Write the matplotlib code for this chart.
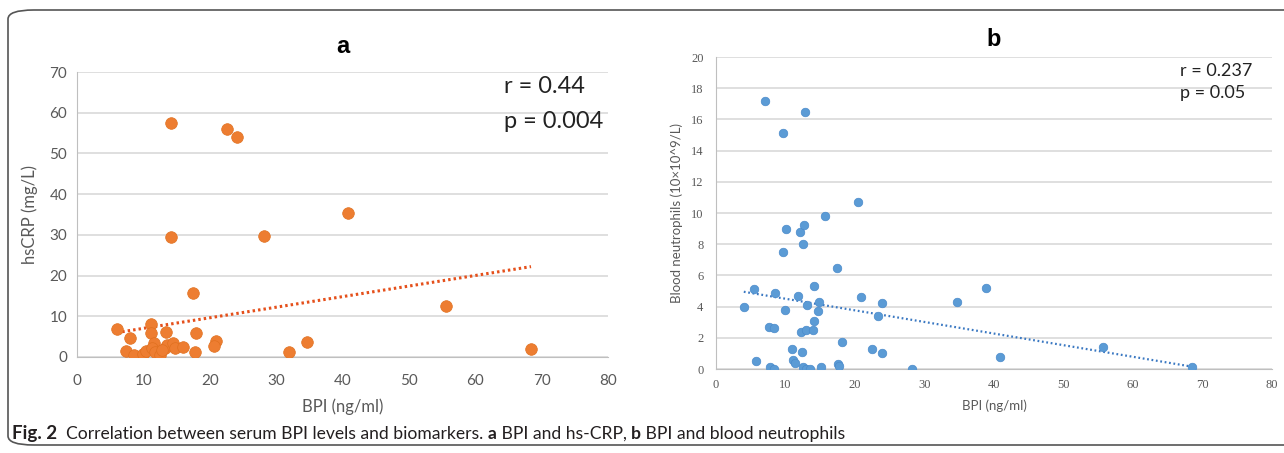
import matplotlib
matplotlib.use("Agg")
import matplotlib.pyplot as plt
from matplotlib.patches import FancyBboxPatch

# panel a: BPI vs hsCRP
bpi_a = [6.0, 8.0, 7.4, 8.6, 9.9, 10.4, 11.1, 11.1, 11.6, 11.3, 11.8, 12.5, 13.3, 13.5,
         13.4, 14.4, 14.8, 16.0, 12.8, 14.2, 14.2, 17.5, 17.9, 17.8, 20.9, 20.6, 22.6,
         24.1, 28.2, 31.9, 34.6, 40.8, 55.6, 68.4]
crp_a = [6.9, 4.7, 1.5, 0.6, 0.7, 1.5, 8.2, 5.9, 3.4, 2.2, 1.3, 0.5, 2.2, 2.9,
         6.1, 3.5, 2.2, 2.4, 1.8, 57.5, 29.5, 15.7, 5.8, 1.2, 4.0, 2.8, 56.0,
         54.0, 29.6, 1.2, 3.7, 35.4, 12.5, 2.0]
trend_a_x = [6.0, 68.4]
trend_a_y = [6.0, 22.2]

# panel b: BPI vs blood neutrophils
bpi_b = [7.0, 12.8, 9.6, 20.4, 10.1, 12.1, 12.7, 15.7, 12.5, 9.6, 17.4, 5.4, 8.5, 11.8,
         14.1, 14.8, 13.1, 14.7, 14.1, 4.0, 9.9, 20.9, 23.9, 23.3, 7.6, 8.3, 12.2, 12.9,
         14.0, 10.9, 12.4, 18.1, 22.4, 23.9, 5.8, 11.1, 11.3, 7.8, 8.3, 12.5, 13.0, 13.5,
         15.1, 17.5, 17.7, 34.7, 38.8, 28.2, 40.9, 55.7, 68.5]
neu_b = [17.2, 16.5, 15.1, 10.7, 9.0, 8.8, 9.2, 9.8, 8.0, 7.5, 6.5, 5.1, 4.9, 4.7,
         5.3, 4.3, 4.1, 3.7, 3.1, 4.0, 3.8, 4.6, 4.2, 3.4, 2.7, 2.6, 2.4, 2.5,
         2.5, 1.3, 1.1, 1.7, 1.3, 1.0, 0.5, 0.6, 0.4, 0.15, 0.0, 0.15, 0.0, 0.0,
         0.1, 0.3, 0.2, 4.3, 5.2, 0.0, 0.8, 1.4, 0.1]
trend_b_x = [4.0, 68.5]
trend_b_y = [4.95, 0.15]

ORANGE = "#ED7D31"
BLUE = "#5B9BD5"
GRID = "#D9D9D9"
TICK = "#595959"
FONT = ["Lato", "DejaVu Sans"]
SERIF = ["Liberation Serif", "DejaVu Serif"]

W, H = 1284, 453
fig = plt.figure(figsize=(W / 100, H / 100), dpi=100)

# outer frame
frame = FancyBboxPatch((8 / W, 8 / H), 1.2, (445 - 10) / H,
                       boxstyle="round,pad=0,rounding_size=0.02",
                       transform=fig.transFigure, fill=False,
                       edgecolor="#555555", lw=1.2, clip_on=False)
fig.patches.append(frame)


def style_axes(ax, fs, fam, xpad, ypad):
    for s in ["top", "right"]:
        ax.spines[s].set_visible(False)
    for s in ["left", "bottom"]:
        ax.spines[s].set_color("#BFBFBF")
    ax.grid(axis="y", color=GRID, lw=1.2)
    ax.set_axisbelow(True)
    ax.tick_params(length=0, colors=TICK, labelsize=fs)
    ax.tick_params(axis="x", pad=xpad)
    ax.tick_params(axis="y", pad=ypad)
    for lab in ax.get_xticklabels() + ax.get_yticklabels():
        lab.set_family(fam)


# panel a
ax1 = fig.add_axes([77 / W, 1 - 357 / H, (608 - 77) / W, (357 - 72) / H])
ax1.scatter(bpi_a, crp_a, s=70, color=ORANGE, edgecolor="#E0701F", lw=0.5, zorder=3)
ax1.plot(trend_a_x, trend_a_y, color="#E5501B", lw=2.2, linestyle=(0, (0.8, 1.0)), zorder=2)
ax1.set_xlim(0, 80)
ax1.set_ylim(0, 70)
ax1.set_xticks(range(0, 81, 10))
ax1.set_yticks(range(0, 71, 10))
style_axes(ax1, 11, FONT, 12, 7)
ax1.set_xlabel("BPI (ng/ml)", fontsize=12, color=TICK, family=FONT, labelpad=8)
ax1.set_ylabel("hsCRP (mg/L)", fontsize=12, color=TICK, family=FONT, labelpad=8)
ax1.text(0.5, 1.05, "a", transform=ax1.transAxes, ha="center", va="bottom",
         fontsize=17, fontweight="bold", family=["Liberation Sans", "DejaVu Sans"])
ax1.text(0.805, 0.95, "r = 0.44", transform=ax1.transAxes, fontsize=17,
         color="#222222", family=FONT, va="center")
ax1.text(0.805, 0.825, "p = 0.004", transform=ax1.transAxes, fontsize=17,
         color="#222222", family=FONT, va="center")

# panel b
ax2 = fig.add_axes([716 / W, 1 - 369 / H, (1272 - 716) / W, (369 - 57) / H])
ax2.scatter(bpi_b, neu_b, s=38, color=BLUE, edgecolor="#4A8ACB", lw=0.5, zorder=3)
ax2.plot(trend_b_x, trend_b_y, color="#3A78C2", lw=1.6, linestyle=(0, (0.8, 1.2)), zorder=2)
ax2.set_xlim(0, 80)
ax2.set_ylim(0, 20)
ax2.set_xticks(range(0, 81, 10))
ax2.set_yticks(range(0, 21, 2))
style_axes(ax2, 9, SERIF, 7, 9)
ax2.set_xlabel("BPI (ng/ml)", fontsize=9.5, color=TICK, family=FONT, labelpad=6)
ax2.set_ylabel("Blood neutrophils (10×10^9/L)", fontsize=9.5, color=TICK,
               family=FONT, labelpad=6)
ax2.text(0.5, 1.02, "b", transform=ax2.transAxes, ha="center", va="bottom",
         fontsize=17, fontweight="bold", family=["Liberation Sans", "DejaVu Sans"])
ax2.text(0.835, 0.955, "r = 0.237", transform=ax2.transAxes, fontsize=13,
         color="#222222", family=FONT, va="center")
ax2.text(0.835, 0.885, "p = 0.05", transform=ax2.transAxes, fontsize=13,
         color="#222222", family=FONT, va="center")

# caption built piece by piece
pieces = [("Fig. 2", "bold", 13.5), ("  Correlation between serum BPI levels and biomarkers. ", "normal", 12.6),
          ("a", "bold", 12.6), (" BPI and hs-CRP, ", "normal", 12.6), ("b", "bold", 12.6),
          (" BPI and blood neutrophils", "normal", 12.6)]
renderer = fig.canvas.get_renderer()
x = 12 / W
for txt, wt, fs in pieces:
    t = fig.text(x, 1 - 434 / H, txt, fontsize=fs, fontweight=wt,
                 family=FONT, color="#231F20", va="center")
    bb = t.get_window_extent(renderer=renderer)
    x += bb.width / W

fig.savefig("out.png", dpi=100)
